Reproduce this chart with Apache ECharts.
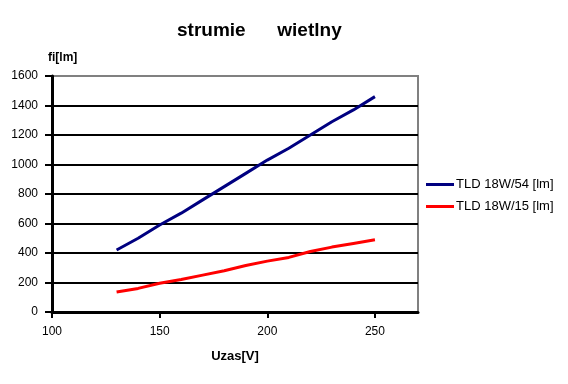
<!DOCTYPE html>
<html>
<head>
<meta charset="utf-8">
<script src="https://cdn.jsdelivr.net/npm/echarts@6/dist/echarts.min.js"></script>
<style>
  html, body { margin: 0; padding: 0; background: #fff; }
  #chart { width: 568px; height: 384px; }
</style>
</head>
<body>
<div id="chart"></div>
<script>
// napiecie zasilania [V]
var uzas = [130, 140, 150, 160, 170, 180, 190, 200, 210, 220, 230, 240, 250]
// strumien swietlny [lm]
var tld54 = [420, 500, 590, 670, 760, 850, 940, 1030, 1110, 1200, 1290, 1370, 1460]
var tld15 = [135, 160, 195, 220, 250, 280, 315, 345, 370, 410, 440, 465, 490]
var seriesNames = ['TLD 18W/54 [lm]', 'TLD 18W/15 [lm]']

function pairs (xs, ys) {
  return xs.map(function (x, i) { return [x, ys[i]] })
}

var font = 'Liberation Sans, Arial, sans-serif'
var chart = echarts.init(document.getElementById('chart'))
chart.setOption({
  animation: false,
  backgroundColor: '#fff',
  title: {
    text: 'strumie      wietlny',
    left: 177,
    top: 21,
    padding: 0,
    textStyle: { fontFamily: font, fontSize: 19, fontWeight: 'bold', color: '#000' }
  },
  legend: {
    orient: 'vertical',
    left: 426,
    top: 178,
    padding: 0,
    icon: 'rect',
    itemWidth: 28,
    itemHeight: 3,
    itemGap: 9,
    data: seriesNames,
    textStyle: { fontFamily: font, fontSize: 13, color: '#000', padding: [0, 0, 0, -3] }
  },
  grid: {
    left: 52,
    right: 150,
    top: 76,
    bottom: 72,
    show: true,
    borderColor: '#808080',
    borderWidth: 2
  },
  xAxis: {
    type: 'value',
    min: 100,
    max: 270,
    interval: 50,
    name: 'Uzas[V]',
    nameLocation: 'middle',
    nameGap: 38,
    nameTextStyle: { fontFamily: font, fontSize: 13, fontWeight: 'bold', color: '#000' },
    axisLine: { show: true, lineStyle: { color: '#000', width: 3 } },
    axisTick: { show: true, length: 6, lineStyle: { color: '#000', width: 2 } },
    axisLabel: {
      margin: 14,
      fontFamily: font,
      fontSize: 12,
      color: '#000',
      showMaxLabel: false
    },
    splitLine: { show: false }
  },
  yAxis: {
    type: 'value',
    min: 0,
    max: 1600,
    interval: 200,
    name: 'fi[lm]',
    nameGap: 12,
    nameTextStyle: {
      fontFamily: font, fontSize: 12, fontWeight: 'bold', color: '#000',
      align: 'left', padding: [0, 0, 0, -4]
    },
    axisLine: { show: true, lineStyle: { color: '#000', width: 3 } },
    axisTick: { show: true, length: 7, lineStyle: { color: '#000', width: 2 } },
    axisLabel: {
      margin: 14,
      fontFamily: font,
      fontSize: 12,
      color: '#000',
      formatter: function (v) { return String(v) }
    },
    splitLine: {
      show: true,
      showMaxLine: false,
      lineStyle: { color: '#000', width: 2 }
    }
  },
  series: [
    {
      name: seriesNames[0],
      type: 'line',
      symbol: 'none',
      data: pairs(uzas, tld54),
      lineStyle: { color: '#000080', width: 3 },
      itemStyle: { color: '#000080' }
    },
    {
      name: seriesNames[1],
      type: 'line',
      symbol: 'none',
      data: pairs(uzas, tld15),
      lineStyle: { color: '#ff0000', width: 3 },
      itemStyle: { color: '#ff0000' }
    }
  ]
})
</script>
</body>
</html>
